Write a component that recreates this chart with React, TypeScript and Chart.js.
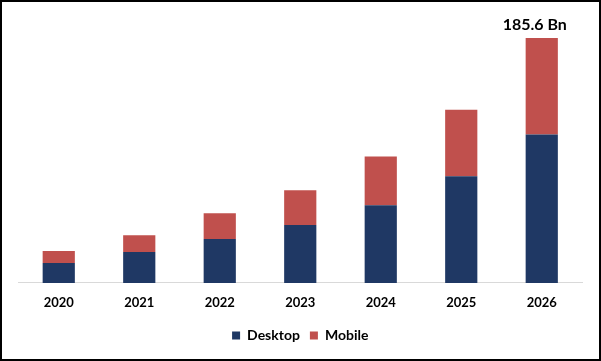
import React, { useEffect, useRef } from "react";
import { Chart, registerables } from "chart.js";

Chart.register(...registerables);

const years = ["2020", "2021", "2022", "2023", "2024", "2025", "2026"];
const desktop = [15.1, 23.4, 33.2, 43.8, 58.9, 80.8, 112.5];
const mobile = [9.1, 12.8, 19.6, 26.4, 36.9, 50.5, 73.1];
const topLabel = "185.6 Bn";

const FONT = "Lato, 'Open Sans', sans-serif";

const labelPlugin = {
  id: "topLabel",
  afterDatasetsDraw(chart: any) {
    const meta = chart.getDatasetMeta(1);
    const el = meta.data[meta.data.length - 1];
    if (!el) return;
    const ctx = chart.ctx;
    ctx.save();
    ctx.font = `bold 16px ${FONT}`;
    ctx.fillStyle = "#000";
    ctx.textAlign = "center";
    ctx.textBaseline = "middle";
    ctx.fillText(topLabel, el.x - 7, el.y - 13);
    ctx.restore();
  },
};

const borderPlugin = {
  id: "frame",
  afterDraw(chart: any) {
    const ctx = chart.ctx;
    ctx.save();
    ctx.strokeStyle = "#000";
    ctx.lineWidth = 2;
    ctx.strokeRect(1, 1, chart.width - 2, chart.height - 2);
    ctx.restore();
  },
};

export default function App() {
  const ref = useRef<HTMLCanvasElement>(null);
  useEffect(() => {
    if (!ref.current) return;
    const chart = new Chart(ref.current, {
      type: "bar",
      data: {
        labels: years,
        datasets: [
          { label: "Desktop", data: desktop, backgroundColor: "#1f3864" },
          { label: "Mobile", data: mobile, backgroundColor: "#c0504d" },
        ],
      },
      options: {
        animation: false,
        responsive: false,
        devicePixelRatio: 1,
        layout: { padding: { left: 18.5, right: 19, top: 19, bottom: 8.5 } },
        datasets: { bar: { categoryPercentage: 1, barPercentage: 0.4 } },
        scales: {
          x: {
            stacked: true,
            grid: { display: false, drawTicks: false },
            border: { display: true, color: "#d9d9d9", width: 1 },
            ticks: {
              padding: 12,
              color: "#000",
              font: { family: FONT, size: 13, weight: "bold" },
            },
            afterFit: (scale: any) => {
              scale.height -= 4;
            },
          },
          y: {
            stacked: true,
            display: false,
            min: 0,
            max: 200,
          },
        },
        plugins: {
          legend: {
            position: "bottom",
            labels: {
              boxWidth: 8,
              boxHeight: 8,
              padding: 10,
              color: "#000",
              font: { family: FONT, size: 14, weight: "bold" },
            },
          },
          tooltip: { enabled: false },
        },
      },
      plugins: [labelPlugin, borderPlugin],
    });
    return () => chart.destroy();
  }, []);
  return (
    <div style={{ position: "absolute", left: 0, top: 0, width: 601, height: 361, background: "#fff" }}>
      <canvas ref={ref} width={601} height={361} style={{ display: "block" }} />
    </div>
  );
}
